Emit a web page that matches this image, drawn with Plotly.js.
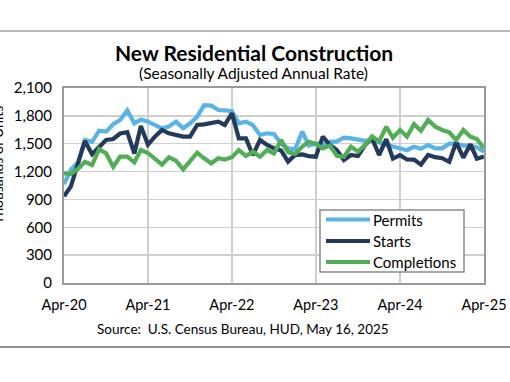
<!DOCTYPE html>
<html>
<head>
<meta charset="utf-8">
<script src="https://cdn.plot.ly/plotly-3.0.1.min.js"></script>
<style>html,body{margin:0;padding:0;background:#fff;}#chart{width:510px;height:382px;}</style>
</head>
<body>
<div id="chart"></div>
<script>
// Monthly data, Apr-2020 .. Apr-2025 (thousands of units, SAAR)
const permits = [1066,1220,1300,1540,1520,1640,1630,1710,1755,1860,
                 1720,1760,1738,1700,1666,1684,1738,1666,1720,1791,
                 1915,1910,1863,1860,1850,1720,1738,1700,1594,1612,
                 1605,1500,1450,1440,1630,1480,1500,1490,1520,1525,
                 1565,1558,1540,1530,1540,1510,1490,1470,1450,1430,
                 1468,1445,1486,1450,1450,1500,1500,1480,1480,1460,
                 1414];
const starts = [934,1040,1290,1530,1386,1468,1540,1551,1610,1625,
                1395,1690,1490,1576,1648,1612,1594,1576,1576,1702,
                1709,1720,1738,1702,1828,1558,1558,1378,1540,1486,
                1450,1427,1307,1378,1385,1367,1360,1576,1486,1433,
                1324,1378,1367,1486,1558,1378,1550,1340,1377,1330,
                1329,1275,1379,1355,1344,1305,1515,1350,1494,1339,
                1361];
const completions = [1181,1175,1230,1306,1270,1440,1396,1250,1361,1361,
                     1300,1432,1400,1343,1275,1354,1318,1224,1307,1404,
                     1343,1289,1343,1330,1354,1432,1368,1415,1360,1432,
                     1396,1540,1410,1390,1470,1520,1500,1450,1480,1370,
                     1360,1468,1415,1486,1579,1525,1683,1565,1648,1576,
                     1710,1640,1755,1684,1648,1623,1540,1648,1576,1550,
                     1450];
const seriesNames = ["Permits", "Starts", "Completions"];
const seriesColors = ["#58B3E8", "#243A5C", "#52AE56"];
const tickDates = ["2020-04-01","2021-04-01","2022-04-01","2023-04-01","2024-04-01","2025-04-01"];
const tickLabels = ["Apr-20","Apr-21","Apr-22","Apr-23","Apr-24","Apr-25"];
const yTicks = [0,300,600,900,1200,1500,1800,2100];

// month dates, Apr-2020 onward
const months = [];
for (let i = 0; i < permits.length; i++) {
  const y = 2020 + Math.floor((3 + i) / 12);
  const m = ((3 + i) % 12) + 1;
  months.push(y + "-" + String(m).padStart(2, "0") + "-01");
}

const FONT = "Lato, 'Open Sans', sans-serif";
const seriesData = [permits, starts, completions];
const traces = seriesData.map((d, k) => ({
  x: months, y: d, name: seriesNames[k], mode: "lines",
  line: {color: seriesColors[k], width: 4.2}
}));

// pixel helpers for layout-only placement (plot area: x 64..484, y 88..283)
const px = v => (v - 64) / 420;
const py = v => (283 - v) / 195;

const annotations = [
  {text: "<b>New Residential Construction</b>", xref: "paper", yref: "paper",
   x: px(254), y: py(52), xanchor: "center", yanchor: "middle", showarrow: false,
   font: {size: 21, family: FONT}},
  {text: "(Seasonally Adjusted Annual Rate)", xref: "paper", yref: "paper",
   x: px(253), y: py(73), xanchor: "center", yanchor: "middle", showarrow: false,
   font: {size: 15.5, family: FONT}},
  {text: "Source:  U.S. Census Bureau, HUD, May 16, 2025", xref: "paper", yref: "paper",
   x: px(243), y: py(329), xanchor: "center", yanchor: "middle", showarrow: false,
   font: {size: 13.5, family: FONT}},
  {text: "Thousands of Units", xref: "paper", yref: "paper", textangle: -90,
   x: px(-3), y: py(165), xanchor: "center", yanchor: "middle", showarrow: false,
   font: {size: 14, family: FONT}}
];
const shapes = [
  {type: "line", xref: "paper", yref: "paper", x0: px(0), x1: px(510),
   y0: py(31), y1: py(31), line: {color: "#a0a0a0", width: 1.5}},
  {type: "line", xref: "paper", yref: "paper", x0: px(0), x1: px(510),
   y0: py(347), y1: py(347), line: {color: "#6a6a6a", width: 1.5}},
  {type: "rect", xref: "paper", yref: "paper", x0: px(320), x1: px(464),
   y0: py(210), y1: py(272), line: {color: "#8c8c8c", width: 1.5}, fillcolor: "#fff", layer: "above"}
];
const legendY = [219.5, 241, 262];
seriesNames.forEach((n, k) => {
  shapes.push({type: "line", xref: "paper", yref: "paper", x0: px(326), x1: px(370),
               y0: py(legendY[k]), y1: py(legendY[k]),
               line: {color: seriesColors[k], width: 4.2}, layer: "above"});
  annotations.push({text: n, xref: "paper", yref: "paper", x: px(371), y: py(legendY[k]),
                    xanchor: "left", yanchor: "middle", showarrow: false,
                    font: {size: 15, family: FONT}});
});

const layout = {
  width: 510, height: 382,
  margin: {l: 64, r: 26, t: 88, b: 99},
  paper_bgcolor: "#fff", plot_bgcolor: "#fff",
  font: {family: FONT, color: "#000", size: 14},
  showlegend: false,
  xaxis: {type: "date", range: ["2020-04-01", "2025-04-01"],
          tickmode: "array", tickvals: tickDates, ticktext: tickLabels,
          showgrid: true, gridcolor: "#cfcfcf", gridwidth: 1.5,
          showline: true, linecolor: "#9a9a9a", linewidth: 2, mirror: true,
          ticks: "", tickfont: {size: 14.5}, zeroline: false, ticklabelstandoff: 8},
  yaxis: {range: [0, 2100], tickmode: "array", tickvals: yTicks,
          tickformat: ",d", showgrid: true, gridcolor: "#cfcfcf", gridwidth: 1.5,
          showline: true, linecolor: "#9a9a9a", linewidth: 2, mirror: true,
          ticks: "", tickfont: {size: 15}, zeroline: false, ticklabelstandoff: 7},
  annotations: annotations,
  shapes: shapes
};

Plotly.newPlot("chart", traces, layout, {staticPlot: true, displayModeBar: false});
</script>
</body>
</html>
